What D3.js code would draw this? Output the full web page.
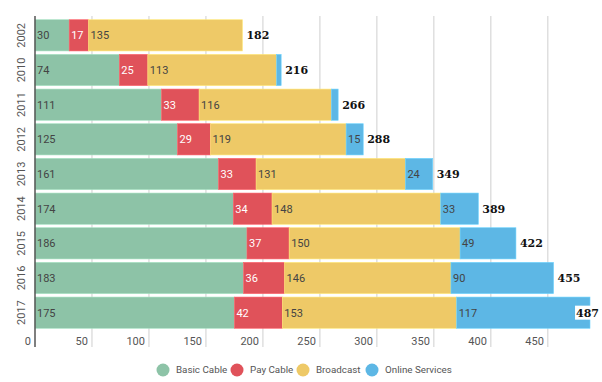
<!DOCTYPE html>
<html>
<head>
<meta charset="utf-8">
<script src="https://cdn.jsdelivr.net/npm/d3@7"></script>
<style>
  body { margin: 0; background: #fff; }
  svg { display: block; font-family: Roboto, "Noto Sans", sans-serif; }
</style>
</head>
<body>
<svg id="chart" width="602" height="382"></svg>
<script>
const years = ["2002", "2010", "2011", "2012", "2013", "2014", "2015", "2016", "2017"];
const seriesNames = ["Basic Cable", "Pay Cable", "Broadcast", "Online Services"];
const basicCable = [30, 74, 111, 125, 161, 174, 186, 183, 175];
const payCable = [17, 25, 33, 29, 33, 34, 37, 36, 42];
const broadcast = [135, 113, 116, 119, 131, 148, 150, 146, 153];
const onlineServices = [0, 4, 6, 15, 24, 33, 49, 90, 117];
const xTicks = [0, 50, 100, 150, 200, 250, 300, 350, 400, 450];
const colors = ["#8dc3a7", "#e0525a", "#eec967", "#5db7e5"];

const W = 602, H = 382;
const svg = d3.select("#chart");

const rows = years.map((y, i) => {
  const vals = [basicCable[i], payCable[i], broadcast[i], onlineServices[i]];
  let acc = 0;
  const segs = vals.map((v, k) => {
    const s = { key: k, v: v, x0: acc, x1: acc + v };
    acc += v;
    return s;
  });
  return { year: y, segs: segs, total: acc };
});

const x = d3.scaleLinear().domain([0, 487]).range([35, 590]);
const y = d3.scaleBand().domain(years).range([18, 330]).paddingInner(0.1).paddingOuter(0.05);

// grid lines
svg.append("g")
  .selectAll("line")
  .data(xTicks.slice(1))
  .join("line")
  .attr("x1", d => x(d)).attr("x2", d => x(d))
  .attr("y1", 16).attr("y2", 347)
  .attr("stroke", "#cfcfcf").attr("stroke-width", 1);

// x tick labels
svg.append("g")
  .selectAll("text")
  .data(xTicks)
  .join("text")
  .attr("x", d => x(d) - 4)
  .attr("y", 345)
  .attr("text-anchor", "end")
  .attr("font-size", 11)
  .attr("fill", "#555")
  .text(d => d);

// bars
const row = svg.append("g")
  .selectAll("g")
  .data(rows)
  .join("g")
  .attr("transform", d => `translate(0,${y(d.year)})`);

row.selectAll("rect")
  .data(d => d.segs.filter(s => s.v > 0))
  .join("rect")
  .attr("x", s => x(s.x0))
  .attr("width", s => x(s.x1) - x(s.x0))
  .attr("height", y.bandwidth())
  .attr("fill", s => colors[s.key])
  .attr("stroke", s => d3.color(colors[s.key]).brighter(0.4))
  .attr("stroke-width", 0.6);

row.selectAll("text.val")
  .data(d => d.segs.filter(s => x(s.x1) - x(s.x0) > 12))
  .join("text")
  .attr("class", "val")
  .attr("x", s => x(s.x0) + 2)
  .attr("y", y.bandwidth() / 2)
  .attr("dy", "0.35em")
  .attr("font-size", 11)
  .attr("fill", s => s.key === 1 ? "#fff" : "#444")
  .text(s => s.v);

// totals
row.each(function(d) {
  const g = d3.select(this);
  const t = g.append("text")
    .attr("y", y.bandwidth() / 2)
    .attr("dy", "0.35em")
    .attr("font-family", "'DejaVu Serif', serif")
    .attr("font-weight", "bold")
    .attr("font-size", 11)
    .attr("fill", "#111")
    .text(d.total);
  const w = t.node().getComputedTextLength();
  const tx = Math.min(x(d.total) + 4, W - 3 - w);
  t.attr("x", tx);
  if (tx < x(d.total)) {
    g.insert("rect", () => t.node())
      .attr("x", tx - 1).attr("y", y.bandwidth() / 2 - 7)
      .attr("width", w + 2).attr("height", 14)
      .attr("fill", "#fff");
  }
});

// left axis line
svg.append("line")
  .attr("x1", 35).attr("x2", 35)
  .attr("y1", 16).attr("y2", 347)
  .attr("stroke", "#555").attr("stroke-width", 1.5);

// year labels
svg.append("g")
  .selectAll("text")
  .data(years)
  .join("text")
  .attr("transform", d => `translate(25,${y(d) + y.bandwidth() / 2}) rotate(-90)`)
  .attr("text-anchor", "middle")
  .attr("font-size", 11)
  .attr("fill", "#555")
  .text(d => d);

// legend
const legendX = [163, 237, 303, 372];
const legend = svg.append("g")
  .selectAll("g")
  .data(seriesNames)
  .join("g")
  .attr("transform", (d, i) => `translate(${legendX[i]},370)`);
legend.append("circle").attr("r", 6.5).attr("fill", (d, i) => colors[i]);
legend.append("text")
  .attr("x", 13).attr("dy", "0.35em")
  .attr("font-size", 9.8)
  .attr("fill", "#555")
  .text(d => d);
</script>
</body>
</html>
